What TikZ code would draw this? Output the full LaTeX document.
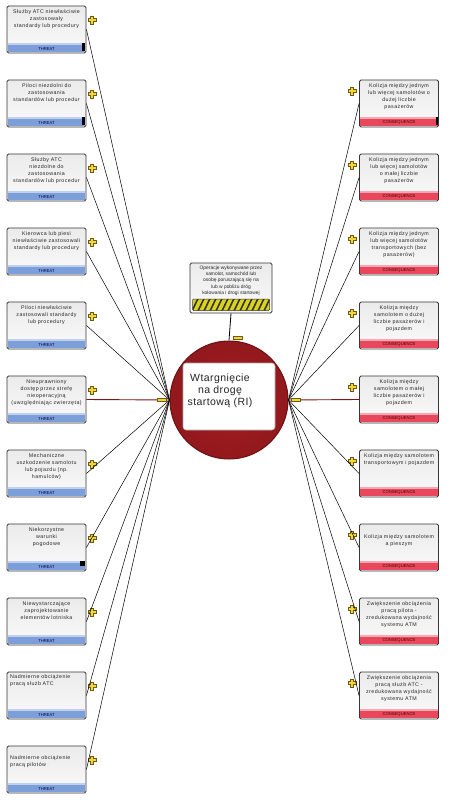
\documentclass[tikz,border=0pt]{standalone}
\usepackage{fontspec}
\setmainfont{Liberation Sans}
\newfontfamily\boxfont[LetterSpace=8]{Liberation Sans}
\newfontfamily\titlefont[LetterSpace=4]{Liberation Sans}
\usetikzlibrary{calc}
\definecolor{boxedge}{HTML}{3A3536}
\definecolor{bandblue}{HTML}{7C9FDA}
\definecolor{bandbluelt}{HTML}{BFD0F0}
\definecolor{bandred}{HTML}{E9475B}
\definecolor{bandredlt}{HTML}{F6A8B2}
\definecolor{plusyellow}{HTML}{F6D531}
\definecolor{plusedge}{HTML}{6B5A1A}
\definecolor{ringred}{HTML}{A51C21}
\definecolor{ringdark}{HTML}{6E1013}
\definecolor{linkred}{HTML}{7A1515}
\definecolor{stripeyellow}{HTML}{D9D21E}
\tikzset{
  box/.style={draw=boxedge, line width=0.9pt, rounded corners=1.5pt, minimum width=79pt,
    minimum height=47pt, inner sep=0pt, top color=gray!16, bottom color=gray!4},
  boxtext/.style={font=\boxfont\fontsize{5.3}{7}\selectfont, align=center, text width=78pt,
    anchor=north, inner sep=0pt, text=black!85},
  boxtextl/.style={font=\boxfont\fontsize{5.3}{7}\selectfont, align=left, text width=74pt,
    anchor=north west, inner sep=0pt, text=black!85},
  bandlabel/.style={font=\fontsize{4.2}{5}\selectfont, inner sep=0pt},
  conn/.style={draw=black, line width=0.5pt},
  connred/.style={draw=linkred, line width=0.9pt},
  minusmark/.style={draw=plusedge, fill=plusyellow, line width=0.5pt, minimum width=9pt,
    minimum height=3.5pt, inner sep=0pt},
  pics/plusmark/.style={code={
    \draw[fill=plusyellow, draw=plusedge, line width=0.6pt]
      (-1.5,-4) -- (1.5,-4) -- (1.5,-1.5) -- (4,-1.5) -- (4,1.5) -- (1.5,1.5) -- (1.5,4)
      -- (-1.5,4) -- (-1.5,1.5) -- (-4,1.5) -- (-4,-1.5) -- (-1.5,-1.5) -- cycle;}}
}
% threat box: name, top, text
\newcommand\mkthreat[3]{%
  \node[box] (#1) at (46.5,{#2+23.5}) {};
  \fill[bandblue] ($(#1.south west)+(1.3,-10)$) rectangle ($(#1.south east)+(-1.3,-1.6)$);
  \fill[bandbluelt] ($(#1.south west)+(1.3,-10)$) rectangle ($(#1.south east)+(-1.3,-8.4)$);
  \node[bandlabel, text=blue!30!black] (#1lab) at ($(#1.south)+(0,-4.6)$) {THREAT};
  \node[boxtext] (#1txt) at (46.5,{#2+3}) {#3};
  \pic at (92,{#2+14}) {plusmark};
}
% consequence box: name, top, text
\newcommand\mkconseq[3]{%
  \node[box] (#1) at (399,{#2+23.5}) {};
  \fill[bandred] ($(#1.south west)+(1.3,-10)$) rectangle ($(#1.south east)+(-1.3,-1.6)$);
  \fill[bandredlt] ($(#1.south west)+(1.3,-10)$) rectangle ($(#1.south east)+(-1.3,-8.4)$);
  \node[bandlabel, text=red!30!black] (#1lab) at ($(#1.south)+(0,-4.6)$) {CONSEQUENCE};
  \node[boxtext] (#1txt) at (399,{#2+3}) {#3};
  \pic at (352,{#2+11}) {plusmark};
}
\begin{document}
\begin{tikzpicture}[x=1pt,y=-1pt]
\useasboundingbox (0,0) rectangle (469,805);
\fill[white] (0,0) rectangle (469,805);

% central circle
\node[circle, minimum size=118pt, inner sep=0pt, draw=ringdark, line width=1pt,
  inner color=ringred, outer color=ringred!88!black] (ri) at (229,400) {};
\node[draw=gray!70, line width=0.6pt, fill=white, rounded corners=3pt, minimum width=92pt,
  minimum height=67pt, inner sep=0pt] (rirect) at (229,396.5) {};
\node[font=\titlefont\fontsize{10.5}{12}\selectfont, align=center, inner sep=0pt, text=black!85]
  (ritext) at (220,391) {Wtargnięcie\\na drogę\\startową (RI)};

% hazard box
\node[box, minimum width=82pt, minimum height=50pt] (hz) at (231,288) {};
\node[font=\fontsize{4.9}{6.3}\selectfont, align=center, inner sep=0pt, anchor=north, text=black!85]
  (hztxt) at (231,265.5) {Operacje wykonywane przez\\samolot, samochód lub\\osobę poruszającą się na\\lub w pobliżu dróg\\kołowania i drogi startowej};
\begin{scope}
  \clip[rounded corners=1pt] (192.5,299) rectangle (269.5,310.5);
  \fill[stripeyellow] (192.5,299) rectangle (269.5,310.5);
  \foreach \i in {186,192,...,270} {\draw[line width=1.6pt, black!80] (\i,311) -- (\i+6,298.5);}
\end{scope}
\draw[boxedge, line width=0.5pt, rounded corners=1pt] (192.5,299) rectangle (269.5,310.5);
\draw[conn, line width=0.8pt] (hz.south) -- (ri.north);
\node[minusmark] (mtop) at (238,337.5) {};

% threats
\mkthreat{L1}{6}{Służby ATC niewłaściwie\\zastosowały\\standardy lub procedury}
\mkthreat{L2}{80}{Piloci niezdolni do\\zastosowania\\standardów lub procedur}
\mkthreat{L3}{154}{Służby ATC\\niezdolne do\\zastosowania\\standardów lub procedur}
\mkthreat{L4}{228}{Kierowca lub piesi\\niewłaściwie zastosowali\\standardy lub procedury}
\mkthreat{L5}{302}{Piloci niewłaściwie\\zastosowali standardy\\lub procedury}
\mkthreat{L6}{376}{Nieuprawniony\\dostęp przez strefę\\nieoperacyjną\\(uwzględniając zwierzęta)}
\mkthreat{L7}{450}{Mechaniczne\\uszkodzenie samolotu\\lub pojazdu (np.\\hamulców)}
\mkthreat{L8}{524}{Niekorzystne\\warunki\\pogodowe}
\mkthreat{L9}{598}{Niewystarczające\\zaprojektowanie\\elementów lotniska}
\node[box] (L10) at (46.5,{672+23.5}) {};
\fill[bandblue] ($(L10.south west)+(1.3,-10)$) rectangle ($(L10.south east)+(-1.3,-1.6)$);
\fill[bandbluelt] ($(L10.south west)+(1.3,-10)$) rectangle ($(L10.south east)+(-1.3,-8.4)$);
\node[bandlabel, text=blue!30!black] (L10lab) at ($(L10.south)+(0,-4.6)$) {THREAT};
\node[boxtextl] (L10txt) at (10,674) {Nadmierne obciążenie\\pracą służb ATC};
\pic at (92,686) {plusmark};
\node[box] (L11) at (46.5,{746+23.5}) {};
\fill[bandblue] ($(L11.south west)+(1.3,-10)$) rectangle ($(L11.south east)+(-1.3,-1.6)$);
\fill[bandbluelt] ($(L11.south west)+(1.3,-10)$) rectangle ($(L11.south east)+(-1.3,-8.4)$);
\node[bandlabel, text=blue!30!black] (L11lab) at ($(L11.south)+(0,-4.6)$) {THREAT};
\node[boxtextl] (L11txt) at (10,755) {Nadmierne obciążenie\\pracą pilotów};
\pic at (92,760) {plusmark};
% small black marks on bands
\fill[black] (81.5,43) rectangle (84.5,51);
\fill[black] (81.5,117) rectangle (84.5,125);
\fill[black] (80,561) rectangle (84.5,566);

% consequences
\mkconseq{R1}{80}{Kolizja między jednym\\lub więcej samolotów o\\dużej liczbie\\pasażerów}
\mkconseq{R2}{154}{Kolizja między jednym\\lub więcej samolotów\\o małej liczbie\\pasażerów}
\mkconseq{R3}{228}{Kolizja między jednym\\lub więcej samolotów\\transportowych (bez\\pasażerów)}
\mkconseq{R4}{302}{Kolizja między\\samolotem o dużej\\liczbie pasażerów i\\pojazdem}
\mkconseq{R5}{376}{Kolizja między\\samolotem o małej\\liczbie pasażerów i\\pojazdem}
\mkconseq{R6}{450}{Kolizja między samolotem\\transportowym i pojazdem}
\node[box] (R7) at (399,{524+23.5}) {};
\fill[bandred] ($(R7.south west)+(1.3,-10)$) rectangle ($(R7.south east)+(-1.3,-1.6)$);
\fill[bandredlt] ($(R7.south west)+(1.3,-10)$) rectangle ($(R7.south east)+(-1.3,-8.4)$);
\node[bandlabel, text=red!30!black] (R7lab) at ($(R7.south)+(0,-4.6)$) {CONSEQUENCE};
\node[boxtext] (R7txt) at (399,534) {Kolizja między samolotem\\a pieszym};
\pic at (352,535) {plusmark};
\mkconseq{R8}{598}{Zwiększenie obciążenia\\pracą pilota -\\zredukowana wydajność\\systemu ATM}
\mkconseq{R9}{672}{Zwiększenie obciążenia\\pracą służb ATC -\\zredukowana wydajność\\systemu ATM}
\fill[black] (435.5,117) rectangle (438,125);

% connectors
\foreach \n in {L1,L2,L3,L4,L5,L7,L8,L9,L10,L11} {\draw[conn] (\n.east) -- (ri.west);}
\draw[connred] (L6.east) -- (ri.west);
\foreach \n in {R1,R2,R3,R4,R6,R7,R8,R9} {\draw[conn] (\n.west) -- (ri.east);}
\draw[connred] (R5.west) -- (ri.east);
\node[minusmark] (mleft) at (162,399.5) {};
\node[minusmark] (mright) at (296,399.5) {};
\end{tikzpicture}
\end{document}
